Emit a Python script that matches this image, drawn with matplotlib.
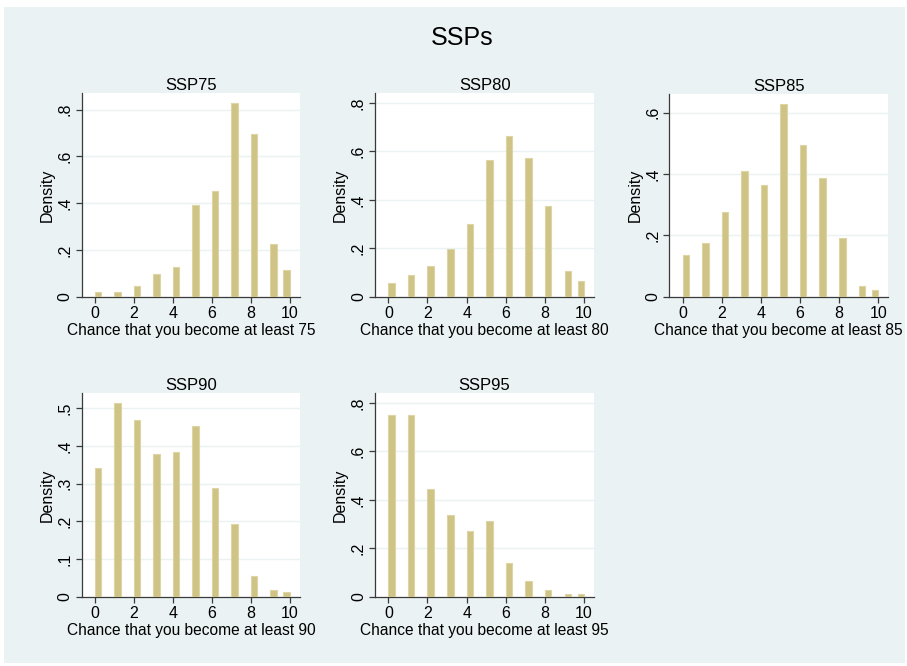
import matplotlib
matplotlib.use("Agg")
import math
import matplotlib.pyplot as plt
from matplotlib.patches import Rectangle

plt.rcParams["font.family"] = ["Liberation Sans", "DejaVu Sans"]

# 값: 0..10 정수 응답, 히스토그램 밀도
chance = [0, 1, 2, 3, 4, 5, 6, 7, 8, 9, 10]
ssp75 = [0.021, 0.020, 0.047, 0.097, 0.127, 0.393, 0.453, 0.830, 0.697, 0.226, 0.114]
ssp80 = [0.055, 0.088, 0.126, 0.199, 0.301, 0.563, 0.663, 0.572, 0.375, 0.108, 0.065]
ssp85 = [0.135, 0.176, 0.275, 0.408, 0.365, 0.628, 0.493, 0.387, 0.190, 0.036, 0.022]
ssp90 = [0.341, 0.514, 0.469, 0.378, 0.383, 0.452, 0.288, 0.193, 0.056, 0.019, 0.012]
ssp95 = [0.750, 0.750, 0.444, 0.338, 0.270, 0.313, 0.139, 0.065, 0.026, 0.011, 0.011]

titles = ["SSP75", "SSP80", "SSP85", "SSP90", "SSP95"]
ages = ["75", "80", "85", "90", "95"]
series = [ssp75, ssp80, ssp85, ssp90, ssp95]
yticks = [
    [0, 0.2, 0.4, 0.6, 0.8],
    [0, 0.2, 0.4, 0.6, 0.8],
    [0, 0.2, 0.4, 0.6],
    [0, 0.1, 0.2, 0.3, 0.4, 0.5],
    [0, 0.2, 0.4, 0.6, 0.8],
]
xticks = [0, 2, 4, 6, 8, 10]

N_BINS = 30          # 0..10 구간을 30개 bin으로 (Stata histogram 기본과 비슷하게)
BIN_W = 10 / N_BINS

W, H = 907, 666
# 플롯 영역 픽셀 좌표 (x0, y0, x1, y1)
boxes = [
    (81.7, 93.0, 300.0, 296.7),
    (375.0, 93.3, 594.3, 296.7),
    (669.3, 94.3, 888.3, 296.7),
    (81.7, 393.3, 300.0, 596.7),
    (375.0, 393.3, 594.3, 596.7),
]
XLABEL_DY = 33.5     # 축 아래 → x 라벨 중심까지 (px)
YLABEL_DX = 34.4     # 축 왼쪽 → "Density" 중심까지 (px)

BG = "#EAF2F3"
BAR = "#CFC486"
BAR_EDGE = "#DDD5A4"
AXIS = "#3a3a3a"


def stata_label(v):
    if v == 0:
        return "0"
    return f"{v:g}".lstrip("0")


fig = plt.figure(figsize=(W / 100, H / 100), dpi=100, facecolor="white")
fig.patches.append(Rectangle((4 / W, 1 - 663 / H), (905 - 4) / W, (663 - 7) / H,
                             transform=fig.transFigure, facecolor=BG,
                             edgecolor="none", zorder=-10))

fig.text(462 / W, 1 - 38 / H, "SSPs", ha="center", va="center", fontsize=18)

for box, title, age, vals, ticks in zip(boxes, titles, ages, series, yticks):
    x0, y0, x1, y1 = box
    ax = fig.add_axes([x0 / W, 1 - y1 / H, (x1 - x0) / W, (y1 - y0) / H])
    ax.set_facecolor("white")

    edges = [min(math.floor(v / BIN_W + 1e-9), N_BINS - 1) * BIN_W for v in chance]
    ax.bar(edges, vals, width=BIN_W, align="edge", color=BAR,
           edgecolor=BAR_EDGE, linewidth=0.8, zorder=3)

    top = max(max(vals), ticks[-1]) * 1.05
    ax.set_ylim(0, top)
    ax.set_xlim(-0.68, 10.52)

    ax.set_yticks(ticks)
    ax.set_yticklabels([stata_label(t) for t in ticks], rotation=90,
                       va="center", fontsize=11.5)
    ax.set_xticks(xticks)
    ax.set_xticklabels([str(t) for t in xticks], fontsize=11.5)
    for t in ticks[1:]:
        ax.axhline(t, color=BG, linewidth=1.0, zorder=1)

    for side in ("top", "right"):
        ax.spines[side].set_visible(False)
    for side in ("left", "bottom"):
        ax.spines[side].set_color(AXIS)
        ax.spines[side].set_linewidth(0.9)
    ax.tick_params(axis="both", direction="out", length=4.5, width=0.9,
                   color=AXIS, pad=2.0)

    ax.set_title(title, fontsize=12, pad=1.5)
    ax.text(0.5, -XLABEL_DY / (y1 - y0), f"Chance that you become at least {age}",
            transform=ax.transAxes, ha="center", va="center", fontsize=11.2)
    ax.text(-YLABEL_DX / (x1 - x0), 0.5, "Density", transform=ax.transAxes,
            rotation=90, ha="center", va="center", fontsize=11.5)

fig.savefig("out.png", dpi=100, facecolor="white")
